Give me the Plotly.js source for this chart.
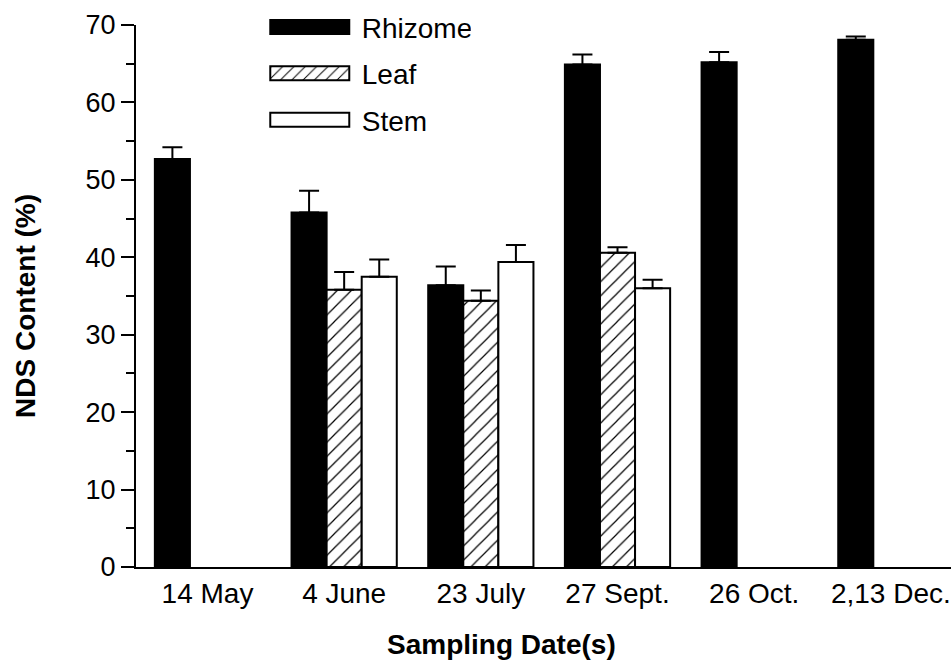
<!DOCTYPE html>
<html><head><meta charset="utf-8">
<script src="https://cdn.plot.ly/plotly-3.0.1.min.js"></script>
<style>html,body{margin:0;padding:0;background:#fff;}#chart{width:951px;height:662px;}</style>
</head><body><div id="chart"></div>
<script>
const categories = ['14 May', '4 June', '23 July', '27 Sept.', '26 Oct.', '2,13 Dec.'];
const rhizome = [52.7, 45.8, 36.4, 64.9, 65.2, 68.1];
const rhizomeErr = [1.5, 2.8, 2.4, 1.3, 1.3, 0.4];
const leaf = [null, 35.8, 34.4, 40.6, null, null];
const leafErr = [0, 2.3, 1.3, 0.7, 0, 0];
const stem = [null, 37.5, 39.4, 36.0, null, null];
const stemErr = [0, 2.2, 2.2, 1.1, 0, 0];
const zeros = [0, 0, 0, 0, 0, 0];

const FONT = 'Liberation Sans, Arial, Helvetica, sans-serif';

function errY(arr) {
  return {type: 'data', array: arr, arrayminus: zeros, symmetric: false,
          color: 'black', thickness: 2, width: 10};
}

const traces = [
  {type: 'bar', name: 'Rhizome', x: categories, y: rhizome, legendgroup: 'a',
   marker: {color: 'black', line: {color: 'black', width: 2}}, error_y: errY(rhizomeErr)},
  {type: 'bar', name: 'Leaf', x: categories, y: leaf, legendgroup: 'b',
   marker: {color: 'white', line: {color: 'black', width: 2},
            pattern: {shape: '/', fgcolor: 'black', bgcolor: 'white', size: 10, solidity: 0.12}},
   error_y: errY(leafErr)},
  {type: 'bar', name: 'Stem', x: categories, y: stem, legendgroup: 'c',
   marker: {color: 'white', line: {color: 'black', width: 2}}, error_y: errY(stemErr)}
];

const layout = {
  width: 951, height: 662,
  paper_bgcolor: 'white', plot_bgcolor: 'white',
  margin: {l: 136, r: 0, t: 25, b: 95},
  barmode: 'group', bargap: 0.23, bargroupgap: 0,
  font: {family: FONT, color: 'black', size: 27},
  showlegend: true,
  legend: {x: 0.158, xanchor: 'left', y: 1.042, yanchor: 'top', traceorder: 'grouped',
           tracegroupgap: 7, itemwidth: 80, font: {size: 28, family: FONT},
           bgcolor: 'rgba(0,0,0,0)', borderwidth: 0},
  xaxis: {type: 'category', range: [-0.523, 5.44], showline: true, linewidth: 2, linecolor: 'black',
          ticks: '', showgrid: false, zeroline: false, tickfont: {size: 28, family: FONT},
          ticklabelstandoff: 0},
  yaxis: {range: [0, 70], dtick: 10, showline: true, linewidth: 2, linecolor: 'black',
          ticks: 'outside', ticklen: 13, tickwidth: 2, tickcolor: 'black',
          showgrid: false, zeroline: false, tickfont: {size: 27, family: FONT},
          minor: {dtick: 5, ticks: 'outside', ticklen: 8, tickwidth: 2, tickcolor: 'black', showgrid: false}},
  annotations: [
    {text: '<b>NDS Content (%)</b>', textangle: -90, xref: 'paper', yref: 'paper',
     x: -0.135, y: 0.4816, xanchor: 'center', yanchor: 'middle', showarrow: false,
     font: {size: 28, family: FONT}},
    {text: '<b>Sampling Date(s)</b>', xref: 'paper', yref: 'paper',
     x: 0.4487, y: -0.143, xanchor: 'center', yanchor: 'middle', showarrow: false,
     font: {size: 28, family: FONT}}
  ]
};

Plotly.newPlot('chart', traces, layout, {displayModeBar: false, staticPlot: true}).then(function () {
  document.querySelectorAll('.legend .legendpoints path').forEach(function (p) {
    p.setAttribute('d', 'M39.5,7H-39.5V-7H39.5Z');
  });
  document.querySelectorAll('.legend text.legendtext').forEach(function (t) {
    var x = parseFloat(t.getAttribute('x') || '0');
    t.setAttribute('x', x + 7);
  });
});
</script>
</body></html>
